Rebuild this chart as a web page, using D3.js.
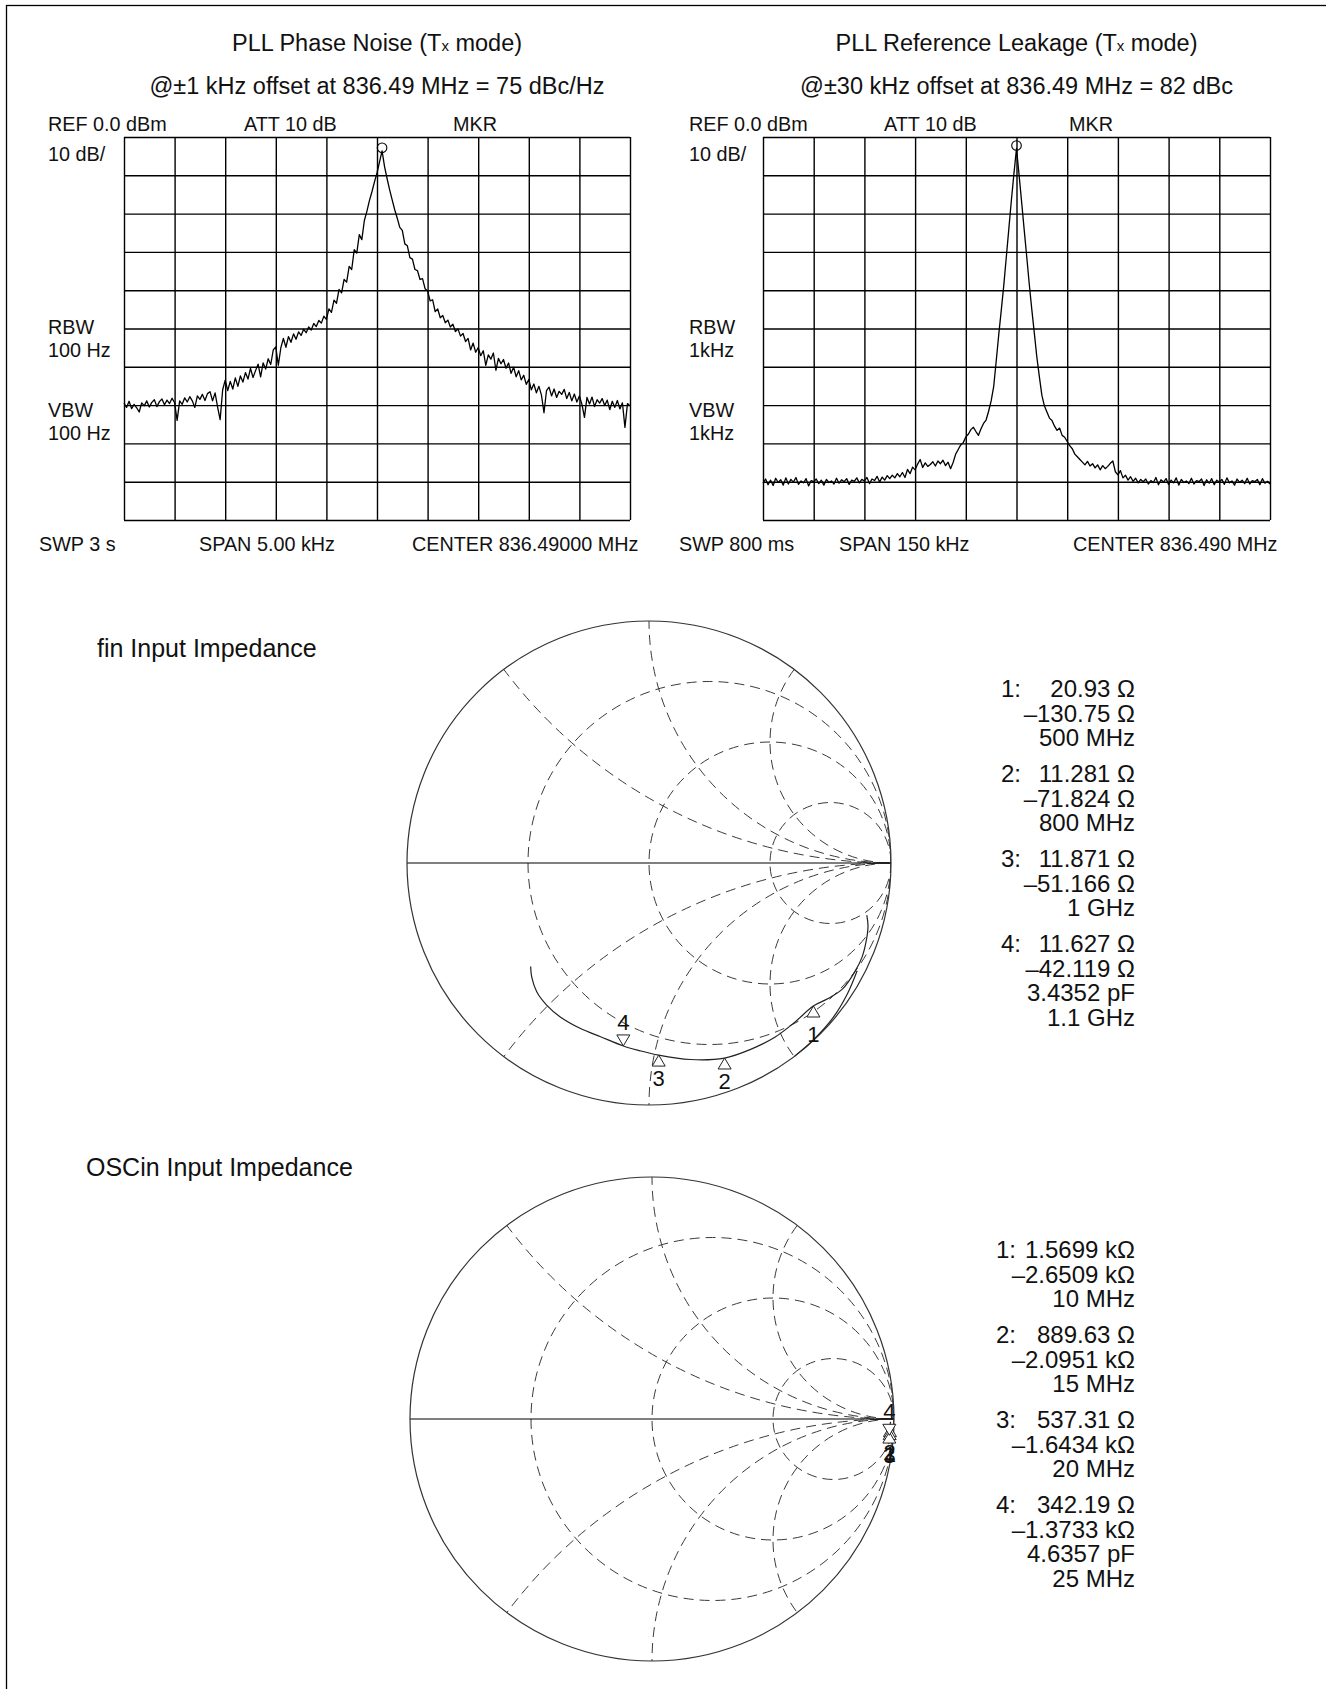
<!DOCTYPE html>
<html>
<head>
<meta charset="utf-8">
<script src="https://cdn.jsdelivr.net/npm/d3@7"></script>
<style>
  body { margin: 0; background: #fff; }
  text { font-family: "Liberation Sans", Arial, Helvetica, sans-serif; fill: #111; }
</style>
</head>
<body>
<div id="chart-area"></div>
<script>
// ---- spectrum traces, dB below REF (201 pts over 10 div) ----
const phaseNoiseDb = [
  -69.5,-70.6,-69.0,-70.9,-69.8,-70.7,-71.8,-69.4,-70.2,-68.9,
  -70.5,-69.3,-68.6,-70.4,-69.1,-68.4,-69.9,-68.7,-69.6,-68.2,
  -69.4,-74.0,-68.9,-69.8,-68.1,-69.2,-67.8,-68.9,-70.6,-67.6,
  -68.5,-67.2,-68.8,-67.0,-66.5,-68.9,-66.8,-70.5,-73.8,-66.0,
  -63.5,-66.2,-63.8,-65.8,-62.9,-65.1,-62.4,-64.0,-61.5,-63.2,
  -60.4,-62.8,-61.0,-59.3,-62.6,-59.0,-60.6,-57.9,-59.4,-55.6,
  -54.8,-59.6,-55.0,-52.6,-54.9,-52.1,-53.6,-51.4,-52.8,-50.9,
  -51.8,-50.2,-51.1,-49.6,-50.4,-48.7,-49.5,-47.9,-48.6,-46.8,
  -47.6,-44.9,-45.8,-42.6,-43.4,-39.8,-40.7,-37.2,-37.9,-33.8,
  -34.6,-29.4,-30.3,-25.5,-26.8,-21.8,-19.4,-16.6,-14.3,-11.7,
  -9.4,-6.5,-3.6,-7.8,-10.9,-13.8,-16.4,-19.0,-21.2,-23.6,
  -24.4,-27.9,-28.4,-31.5,-31.9,-34.6,-34.9,-37.2,-37.0,-39.6,
  -40.2,-42.8,-42.5,-45.6,-44.9,-47.2,-46.6,-48.5,-47.8,-49.6,
  -48.9,-50.8,-50.1,-52.0,-51.3,-53.4,-52.6,-55.6,-53.8,-56.2,
  -55.0,-57.1,-55.8,-59.6,-56.9,-58.0,-56.4,-60.9,-57.8,-59.2,
  -58.1,-60.4,-59.0,-61.7,-60.1,-62.6,-61.0,-63.4,-62.2,-64.6,
  -63.3,-66.0,-64.5,-66.8,-65.1,-67.4,-72.0,-66.2,-65.3,-67.6,
  -65.8,-68.0,-66.4,-67.2,-65.9,-68.3,-66.7,-68.9,-67.1,-69.2,
  -67.6,-69.8,-73.2,-68.0,-69.7,-67.9,-70.4,-68.6,-69.5,-68.3,
  -70.1,-68.7,-71.2,-69.0,-70.6,-68.8,-71.0,-69.4,-75.8,-69.6,
  -70.2
];
const refLeakageDb = [
  -90.4,-89.3,-90.8,-89.6,-91.0,-89.1,-90.2,-89.5,-90.9,-89.0,
  -90.6,-89.4,-90.1,-88.9,-90.7,-89.8,-90.3,-89.2,-91.1,-89.7,
  -90.0,-89.3,-90.5,-89.6,-90.9,-89.4,-90.2,-89.8,-90.6,-89.1,
  -90.4,-89.5,-90.0,-89.2,-90.7,-89.6,-89.9,-89.0,-90.3,-89.4,
  -89.8,-88.9,-90.5,-89.3,-89.7,-88.6,-90.1,-88.8,-89.6,-88.4,
  -89.2,-88.3,-89.0,-87.9,-88.7,-87.6,-88.9,-86.8,-87.9,-86.2,
  -86.9,-85.4,-84.2,-86.3,-85.1,-86.0,-85.5,-84.8,-85.9,-84.6,
  -85.3,-84.4,-85.8,-84.9,-86.6,-85.0,-82.8,-81.6,-80.4,-79.8,
  -78.3,-77.6,-76.4,-75.8,-76.9,-77.9,-76.2,-74.8,-73.9,-71.6,
  -68.9,-65.2,-58.5,-51.6,-45.2,-38.6,-31.2,-23.8,-16.4,-9.5,
  -3.0,-9.8,-16.8,-24.0,-31.0,-38.2,-44.8,-51.0,-57.3,-62.5,
  -67.4,-70.2,-71.8,-73.4,-74.0,-75.5,-76.6,-76.0,-77.9,-78.4,
  -79.5,-80.6,-81.4,-82.8,-83.5,-84.2,-84.9,-85.6,-84.7,-85.9,
  -85.3,-86.4,-85.6,-86.9,-85.8,-86.6,-86.0,-85.2,-84.6,-87.4,
  -88.2,-87.1,-89.0,-88.3,-89.6,-88.7,-89.9,-89.1,-90.3,-89.4,
  -90.0,-89.3,-90.6,-89.7,-90.2,-88.9,-90.8,-89.5,-90.1,-89.2,
  -90.7,-89.6,-90.3,-89.0,-90.9,-89.4,-90.2,-89.8,-90.5,-89.1,
  -90.6,-89.7,-90.0,-89.3,-91.0,-89.5,-90.4,-89.2,-90.8,-89.6,
  -90.1,-89.4,-90.7,-89.0,-90.3,-89.8,-90.9,-89.3,-90.2,-89.6,
  -90.5,-89.1,-90.6,-89.7,-90.0,-89.4,-90.8,-89.2,-90.4,-89.9,
  -90.6
];
const dbTicks = [0, -10, -20, -30, -40, -50, -60, -70, -80, -90, -100];
const divTicks = [0, 1, 2, 3, 4, 5, 6, 7, 8, 9, 10];

// ---- Smith chart traces (reflection coefficient) ----
const finTraceRe = [0.900, 0.905, 0.898, 0.880, 0.850, 0.800, 0.740, 0.679, 0.600, 0.520, 0.420, 0.312, 0.170, 0.040, -0.040, -0.106, -0.200, -0.285, -0.368, -0.423, -0.464, -0.485, -0.489];
const finTraceIm = [-0.215, -0.260, -0.320, -0.390, -0.450, -0.520, -0.560, -0.591, -0.660, -0.720, -0.770, -0.806, -0.812, -0.794, -0.775, -0.756, -0.718, -0.683, -0.635, -0.587, -0.532, -0.470, -0.428];
const finOuterRe = [0.600, 0.680, 0.760, 0.820, 0.860];
const finOuterIm = [-0.800, -0.730, -0.640, -0.540, -0.445];

const oscTraceRe = [0.986, 0.983, 0.982, 0.981, 0.981, 0.980];
const oscTraceIm = [-0.012, -0.027, -0.040, -0.054, -0.067, -0.080];

// markers: resistance (ohm), reactance (ohm)
const finMarkerR = [20.93, 11.281, 11.871, 11.627];
const finMarkerX = [-130.75, -71.824, -51.166, -42.119];
const finMarkerText = [
  ['20.93 \u03A9', '\u2013130.75 \u03A9', '500 MHz'],
  ['11.281 \u03A9', '\u201371.824 \u03A9', '800 MHz'],
  ['11.871 \u03A9', '\u201351.166 \u03A9', '1 GHz'],
  ['11.627 \u03A9', '\u201342.119 \u03A9', '3.4352 pF', '1.1 GHz']
];
const oscMarkerR = [1569.9, 889.63, 537.31, 342.19];
const oscMarkerX = [-2650.9, -2095.1, -1643.4, -1373.3];
const oscMarkerText = [
  ['1.5699 k\u03A9', '\u20132.6509 k\u03A9', '10 MHz'],
  ['889.63 \u03A9', '\u20132.0951 k\u03A9', '15 MHz'],
  ['537.31 \u03A9', '\u20131.6434 k\u03A9', '20 MHz'],
  ['342.19 \u03A9', '\u20131.3733 k\u03A9', '4.6357 pF', '25 MHz']
];
const z0 = 50;
const rCircles = [1 / 3, 1, 3];
const xArcs = [0.5, 1, 2, -0.5, -1, -2];

const W = 1326, H = 1689;
const svg = d3.select('#chart-area').append('svg')
  .attr('width', W).attr('height', H)
  .style('display', 'block');

svg.append('rect')
  .attr('x', 6.5).attr('y', 5.5)
  .attr('width', 1400).attr('height', 1800)
  .attr('fill', 'none').attr('stroke', '#000').attr('stroke-width', 1.3);

const addTitle = (g, x, y, pre, sub, post) => {
  const t = g.append('text').attr('x', x).attr('y', y)
    .attr('text-anchor', 'middle').attr('font-size', 23.5);
  t.append('tspan').text(pre);
  t.append('tspan').attr('font-size', 15).text(sub);
  t.append('tspan').text(post);
};

const drawSpectrum = (cfg) => {
  const g = svg.append('g');
  const { left, right, top, bottom, data } = cfg;
  const x = d3.scaleLinear().domain([0, 10]).range([left, right]);
  const y = d3.scaleLinear().domain([0, -100]).range([top, bottom]);

  addTitle(g, (left + right) / 2, 51, cfg.title, 'x', ' mode)');
  g.append('text').attr('x', (left + right) / 2).attr('y', 94)
    .attr('text-anchor', 'middle').attr('font-size', 23.5).text(cfg.subtitle);

  const gx = g.append('g').attr('transform', `translate(0,${bottom})`)
    .call(d3.axisBottom(x).tickValues(divTicks).tickSize(-(bottom - top)).tickFormat(''));
  const gy = g.append('g').attr('transform', `translate(${left},0)`)
    .call(d3.axisLeft(y).tickValues(dbTicks).tickSize(-(right - left)).tickFormat(''));
  [gx, gy].forEach(a => {
    a.select('.domain').remove();
    a.selectAll('line').attr('stroke', '#000').attr('stroke-width', 1.4);
  });

  const step = 10 / (data.length - 1);
  const line = d3.line().x((d, i) => x(i * step)).y(d => y(d));
  g.append('path').datum(data)
    .attr('d', line).attr('fill', 'none')
    .attr('stroke', '#000').attr('stroke-width', 1.3).attr('stroke-linejoin', 'round');

  const pk = d3.maxIndex(data);
  g.append('circle').attr('cx', x(pk * step)).attr('cy', y(data[pk]) - 3)
    .attr('r', 4.8).attr('fill', 'none').attr('stroke', '#000').attr('stroke-width', 1.1);

  const lab = (tx, ty, s) => g.append('text').attr('x', tx).attr('y', ty)
    .attr('font-size', 19.8).text(s);
  lab(cfg.lx, 131, 'REF 0.0 dBm');
  lab(cfg.attX, 131, 'ATT 10 dB');
  lab(cfg.mkrX, 131, 'MKR');
  lab(cfg.lx, 161, '10 dB/');
  lab(cfg.lx, 334, 'RBW');
  lab(cfg.lx, 357, cfg.bw);
  lab(cfg.lx, 417, 'VBW');
  lab(cfg.lx, 440, cfg.bw);
  lab(cfg.swpX, 551, cfg.swp);
  lab(cfg.spanX, 551, cfg.span);
  lab(cfg.centerX, 551, cfg.center);
};

drawSpectrum({
  left: 124, right: 630, top: 137, bottom: 520, data: phaseNoiseDb,
  title: 'PLL Phase Noise (T',
  subtitle: '@\u00B11 kHz offset at 836.49 MHz = 75 dBc/Hz',
  lx: 48, attX: 244, mkrX: 453, bw: '100 Hz',
  swpX: 39, swp: 'SWP 3 s', spanX: 199, span: 'SPAN 5.00 kHz',
  centerX: 412, center: 'CENTER 836.49000 MHz'
});
drawSpectrum({
  left: 763, right: 1270, top: 137, bottom: 520, data: refLeakageDb,
  title: 'PLL Reference Leakage (T',
  subtitle: '@\u00B130 kHz offset at 836.49 MHz = 82 dBc',
  lx: 689, attX: 884, mkrX: 1069, bw: '1kHz',
  swpX: 679, swp: 'SWP 800 ms', spanX: 839, span: 'SPAN 150 kHz',
  centerX: 1073, center: 'CENTER 836.490 MHz'
});

const gamma = (r, xx) => {
  const a = r / z0, b = xx / z0;
  const den = (a + 1) * (a + 1) + b * b;
  return [(a * a + b * b - 1) / den, (2 * b) / den];
};

let clipId = 0;
const drawSmith = (cfg) => {
  const g = svg.append('g');
  const { cx, cy, R } = cfg;
  const sx = d3.scaleLinear().domain([-1, 1]).range([cx - R, cx + R]);
  const sy = d3.scaleLinear().domain([-1, 1]).range([cy + R, cy - R]);
  const k = R; // pixels per unit gamma

  const id = 'smclip' + (clipId++);
  g.append('clipPath').attr('id', id)
    .append('circle').attr('cx', cx).attr('cy', cy).attr('r', R);

  const grid = g.append('g').attr('clip-path', `url(#${id})`)
    .attr('fill', 'none').attr('stroke', '#3a3a3a').attr('stroke-width', 1)
    .attr('stroke-dasharray', '10,6');
  grid.selectAll('circle.rc').data(rCircles).join('circle').attr('class', 'rc')
    .attr('cx', r => sx(r / (r + 1))).attr('cy', cy).attr('r', r => k / (r + 1));
  grid.selectAll('circle.xa').data(xArcs).join('circle').attr('class', 'xa')
    .attr('cx', sx(1)).attr('cy', xx => sy(1 / xx)).attr('r', xx => k / Math.abs(xx));

  g.append('line').attr('x1', sx(-1)).attr('x2', sx(1)).attr('y1', cy).attr('y2', cy)
    .attr('stroke', '#000').attr('stroke-width', 1.2);
  g.append('circle').attr('cx', cx).attr('cy', cy).attr('r', R)
    .attr('fill', 'none').attr('stroke', '#333').attr('stroke-width', 1.2);

  const line = d3.line().x(d => sx(d[0])).y(d => sy(d[1])).curve(d3.curveCatmullRom);
  cfg.traces.forEach(([re, im]) => {
    g.append('path').datum(re.map((v, i) => [v, im[i]]))
      .attr('d', line).attr('fill', 'none').attr('stroke', '#222').attr('stroke-width', 1.2);
  });

  const pts = cfg.mR.map((r, i) => gamma(r, cfg.mX[i]));
  pts.forEach((p, i) => {
    const px = sx(p[0]), py = sy(p[1]);
    const down = i === 3;
    const h = 11, w = 6.5;
    const tri = down
      ? `M${px},${py}L${px - w},${py - h}L${px + w},${py - h}Z`
      : `M${px},${py}L${px - w},${py + h}L${px + w},${py + h}Z`;
    g.append('path').attr('d', tri).attr('fill', '#fff').attr('stroke', '#222').attr('stroke-width', 1);
    const dy = down ? -h - 5 : (i === 0 ? h + 25 : h + 20);
    g.append('text').attr('x', px).attr('y', py + dy)
      .attr('text-anchor', 'middle').attr('font-size', 22).text(i + 1);
  });

  g.append('text').attr('x', cfg.titleX).attr('y', cfg.titleY)
    .attr('font-size', 25).text(cfg.title);

  cfg.readouts.forEach((lines, i) => {
    const y0 = cfg.textY + i * 85;
    g.append('text').attr('x', cfg.numX).attr('y', y0).attr('font-size', 24).text(`${i + 1}:`);
    lines.forEach((s, j) => {
      g.append('text').attr('x', 1135).attr('y', y0 + j * 24.5)
        .attr('text-anchor', 'end').attr('font-size', 24).text(s);
    });
  });
};

drawSmith({
  cx: 649, cy: 863, R: 242,
  traces: [[finTraceRe, finTraceIm], [finOuterRe, finOuterIm]],
  mR: finMarkerR, mX: finMarkerX,
  title: 'fin Input Impedance', titleX: 97, titleY: 657,
  readouts: finMarkerText, textY: 697, numX: 1001
});
drawSmith({
  cx: 652, cy: 1419, R: 242,
  traces: [[oscTraceRe, oscTraceIm]],
  mR: oscMarkerR, mX: oscMarkerX,
  title: 'OSCin Input Impedance', titleX: 86, titleY: 1176,
  readouts: oscMarkerText, textY: 1258, numX: 996
});
</script>
</body>
</html>
